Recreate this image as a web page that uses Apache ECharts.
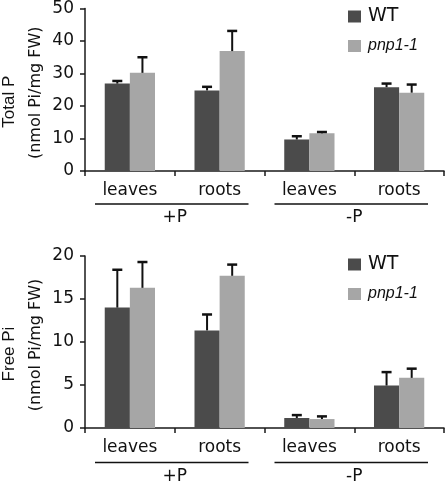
<!DOCTYPE html>
<html><head><meta charset="utf-8">
<script src="https://cdn.jsdelivr.net/npm/echarts@6/dist/echarts.min.js"></script>
<style>html,body{margin:0;padding:0;background:#fff}#c{width:448px;height:486px}</style>
</head><body><div id="c"></div>
<script>
// ---- data ----
const categories = ['leaves', 'roots', 'leaves', 'roots'];
const groups = ['+P', '-P'];
const seriesNames = ['WT', 'pnp1-1'];
const totalWT = [26.9, 24.8, 9.7, 25.8];
const totalWTErr = [0.8, 1.1, 1.0, 1.1];
const totalPnp = [30.2, 36.9, 11.6, 24.1];
const totalPnpErr = [4.8, 6.2, 0.4, 2.5];
const freeWT = [14.0, 11.35, 1.16, 4.94];
const freeWTErr = [4.4, 1.85, 0.34, 1.56];
const freePnp = [16.3, 17.7, 1.04, 5.83];
const freePnpErr = [3.0, 1.3, 0.31, 1.07];
const totalAxis = {max: 50, interval: 10};
const freeAxis = {max: 20, interval: 5};
const titles = [['Total P', '(nmol Pi/mg FW)'], ['Free Pi', '(nmol Pi/mg FW)']];

// ---- style ----
const DARK = '#4b4b4b', LIGHT = '#a6a6a6', AX = '#1a1a1a';
const FONT = 'DejaVu Sans';

const chart = echarts.init(document.getElementById('c'), null, {renderer: 'canvas'});

const grids = [
  {left: 85, right: 4, top: 7, height: 164},
  {left: 85, right: 4, top: 256, height: 172}
];

function xAxis(g) {
  return {
    type: 'category', gridIndex: g, data: categories,
    axisLine: {lineStyle: {color: AX, width: 1.5}},
    axisTick: {show: true, interval: 0, length: 5, lineStyle: {color: AX, width: 1.5}},
    axisLabel: {interval: 0, margin: 11, color: '#111', fontFamily: FONT, fontSize: 17}
  };
}
function yAxis(g, ax) {
  return {
    type: 'value', gridIndex: g, min: 0, max: ax.max, interval: ax.interval,
    splitLine: {show: false},
    axisLine: {show: true, lineStyle: {color: AX, width: 1.5}},
    axisTick: {show: true, length: 5, lineStyle: {color: AX, width: 1.5}},
    axisLabel: {margin: 11, color: '#111', fontFamily: FONT, fontSize: 17}
  };
}
function barSeries(name, data, g, color) {
  return {
    type: 'bar', name, xAxisIndex: g, yAxisIndex: g, data,
    itemStyle: {color}, barGap: '0%', barCategoryGap: '44%', z: 2, silent: true
  };
}
function errSeries(means, errs, g, side) {
  return {
    type: 'custom', name: 'err' + g + side, xAxisIndex: g, yAxisIndex: g, z: 3, silent: true,
    data: means.map((m, i) => [i, m, m + errs[i]]),
    encode: {x: 0, y: [1, 2]},
    renderItem(params, api) {
      const band = api.size([1, 0])[0];
      const off = side * band * 0.14;
      const p0 = api.coord([api.value(0), api.value(1)]);
      const p1 = api.coord([api.value(0), api.value(2)]);
      const x = p0[0] + off;
      return {type: 'group', children: [
        {type: 'line', shape: {x1: x, y1: p0[1], x2: x, y2: p1[1]}, style: {stroke: '#111', lineWidth: 2}},
        {type: 'line', shape: {x1: x - 5, y1: p1[1], x2: x + 5, y2: p1[1]}, style: {stroke: '#111', lineWidth: 2.5}}
      ]};
    }
  };
}
function legend(top) {
  return {
    top, left: 348, padding: 0, orient: 'vertical', icon: 'rect', itemWidth: 13, itemHeight: 12, itemGap: 12,
    selectedMode: false,
    data: [
      {name: seriesNames[0], textStyle: {fontFamily: FONT, fontSize: 19, color: '#111', padding: [0, 0, 0, 2]}},
      {name: seriesNames[1], textStyle: {fontFamily: 'Liberation Sans', fontStyle: 'italic', fontSize: 16, color: '#111', padding: [0, 0, 0, 2]}}
    ]
  };
}

chart.setOption({
  animation: false,
  backgroundColor: '#fff',
  grid: grids,
  xAxis: [xAxis(0), xAxis(1)],
  yAxis: [yAxis(0, totalAxis), yAxis(1, freeAxis)],
  legend: [legend(7), legend(255)],
  series: [
    barSeries(seriesNames[0], totalWT, 0, DARK),
    barSeries(seriesNames[1], totalPnp, 0, LIGHT),
    barSeries(seriesNames[0], freeWT, 1, DARK),
    barSeries(seriesNames[1], freePnp, 1, LIGHT),
    errSeries(totalWT, totalWTErr, 0, -1),
    errSeries(totalPnp, totalPnpErr, 0, 1),
    errSeries(freeWT, freeWTErr, 1, -1),
    errSeries(freePnp, freePnpErr, 1, 1)
  ]
});

// group brackets and axis titles, positioned from the axes' own scales
const graphics = [];
const lineOff = [33, 34.5], labelOff = [46.5, 49];
const axes = [totalAxis, freeAxis];
for (let g = 0; g < 2; g++) {
  const c0 = chart.convertToPixel({xAxisIndex: g}, 0);
  const c1 = chart.convertToPixel({xAxisIndex: g}, 1);
  const band = c1 - c0;
  const y0 = chart.convertToPixel({yAxisIndex: g}, 0);
  const yMid = chart.convertToPixel({yAxisIndex: g}, axes[g].max / 2);
  groups.forEach((name, k) => {
    const a = chart.convertToPixel({xAxisIndex: g}, 2 * k) - band / 2 + 10;
    const b = chart.convertToPixel({xAxisIndex: g}, 2 * k + 1) + band / 2 - 16;
    graphics.push({type: 'line', shape: {x1: a, y1: y0 + lineOff[g], x2: b, y2: y0 + lineOff[g]},
      style: {stroke: '#111', lineWidth: 1.5}, silent: true});
    graphics.push({type: 'text', x: (a + b) / 2 + 3, y: y0 + labelOff[g],
      style: {text: name, align: 'center', verticalAlign: 'middle', fontFamily: FONT, fontSize: 17, fill: '#111'}, silent: true});
  });
  graphics.push({type: 'text', x: 9, y: yMid + 12, rotation: Math.PI / 2,
    style: {text: titles[g][0], align: 'center', verticalAlign: 'middle', fontFamily: 'Liberation Sans', fontSize: 17, fill: '#111'}, silent: true});
  graphics.push({type: 'text', x: 36, y: yMid + 3, rotation: Math.PI / 2,
    style: {text: titles[g][1], align: 'center', verticalAlign: 'middle', fontFamily: FONT, fontSize: 16, fill: '#111'}, silent: true});
}
chart.setOption({graphic: graphics});
</script>
</body></html>
